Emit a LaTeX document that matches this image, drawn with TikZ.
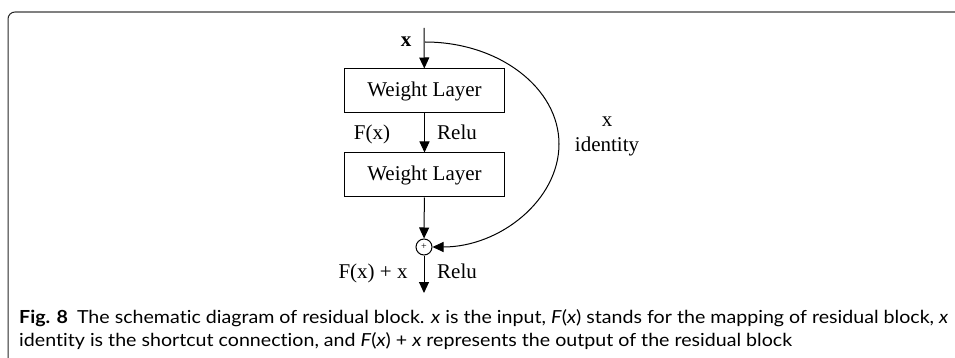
\documentclass[tikz,border=0pt]{standalone}
\usepackage{fontspec}
\setmainfont{Liberation Serif}
\newfontfamily\capfont[FakeStretch=1.09,Ligatures=NoCommon]{Lato}
\usetikzlibrary{arrows.meta}
\begin{document}
\begin{tikzpicture}[x=1pt,y=-1pt,
  every node/.style={inner sep=0pt},
  lbl/.style={font=\fontsize{21}{24}\selectfont, anchor=base},
  wbox/.style={draw, line width=1pt, minimum width=160pt, minimum height=44pt, font=\fontsize{21}{24}\selectfont},
  conn/.style={line width=1pt, -{Triangle[length=11pt,width=10pt]}},
  captext/.style={anchor=base west, font=\capfont\fontsize{18}{23}\selectfont}
]
\useasboundingbox (0,0) rectangle (955,358);
% frame
\draw[line width=1pt, black!85, rounded corners=7pt] (8,358) -- (8,12) -- (30,12);
\draw[line width=1.6pt, black!50] (15,12) -- (955,12);
% nodes
\coordinate (in) at (424,28);
\coordinate (split) at (425,42);
\node[wbox] (w1) at (424.5,91) {Weight Layer};
\node[wbox] (w2) at (424.5,175) {Weight Layer};
\node[circle, draw, line width=1pt, minimum size=16pt] (add) at (424,247) {\fontsize{10}{10}\selectfont +};
\coordinate (out) at (424,293);
\coordinate (far) at (559,144);
% connectors
\draw[conn] (in) -- (w1);
\draw[conn] (w1) -- (w2);
\draw[conn] (w2) -- (add);
\draw[conn] (add) -- (out);
\draw[line width=1pt] (split) .. controls (499,42) and (559,88) .. (far);
\draw[conn] (far) .. controls (559,200) and (500,247) .. (add.east);
% labels
\node[lbl, font=\fontsize{21}{24}\selectfont\bfseries] (xin) at (406,47) {x};
\node[lbl] (fx) at (372,140) {F(x)};
\node[lbl] (relu1) at (457,140) {Relu};
\node[lbl] (xid) at (607,127) {x};
\node[lbl] (ident) at (607,152) {identity};
\node[lbl] (fxx) at (373,278) {F(x) + x};
\node[lbl] (relu2) at (457,278) {Relu};
% caption
\node[captext] (cap1) at (19,323) {\textbf{Fig. 8}\hskip 0.5em The schematic diagram of residual block. \textit{x} is the input, \textit{F}(\textit{x}) stands for the mapping of residual block, \textit{x}};
\node[captext] (cap2) at (19,346) {identity is the shortcut connection, and \textit{F}(\textit{x}) + \textit{x} represents the output of the residual block};
\end{tikzpicture}
\end{document}
